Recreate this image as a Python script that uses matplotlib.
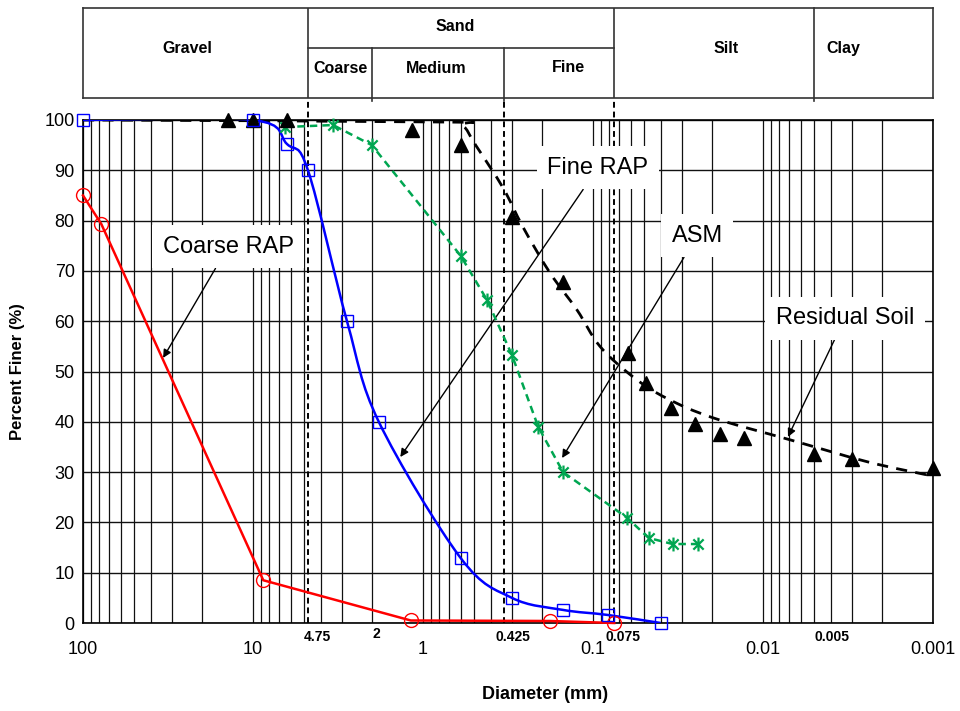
"""Particle size distribution of RAP, ASM and residual soil
"""

import numpy as np
import matplotlib
matplotlib.use('Agg')
import matplotlib.pyplot as plt
from matplotlib.path import Path
from matplotlib.patches import PathPatch
from matplotlib.ticker import LogLocator, NullFormatter, FixedLocator, NullLocator

plt.rcParams['font.family'] = ['Liberation Sans', 'DejaVu Sans']

# data (diameter in mm, percent finer)
coarse_d = [100, 78, 8.7, 1.18, 0.18, 0.075]
coarse_p = [85, 79.3, 8.5, 0.5, 0.4, 0]

fine_d = [100, 10, 6.3, 4.75, 2.8, 1.82, 0.6, 0.3, 0.15, 0.082, 0.04]
fine_p = [100, 100, 95.2, 90, 60, 40, 12.9, 5, 2.6, 1.6, 0]

asm_d = [6.5, 3.38, 2.0, 0.6, 0.42, 0.3, 0.21, 0.15, 0.063, 0.047, 0.034, 0.024]
asm_p = [98.6, 99, 95, 73, 64.2, 53.3, 39, 30, 20.9, 16.9, 15.7, 15.7]

soil_d = [14, 10, 6.3, 1.16, 0.6, 0.3, 0.15, 0.062, 0.049, 0.035, 0.025,
          0.018, 0.013, 0.005, 0.003, 0.001]
soil_p = [100, 100, 100, 98, 95, 80.7, 67.8, 53.7, 47.7, 42.7, 39.6,
          37.6, 36.8, 33.6, 32.6, 30.8]

# dashed trend line drawn for the residual soil
soil_fit_d = [100, 0.79, 0.59, 0.49, 0.338, 0.258, 0.179, 0.124, 0.091,
              0.058, 0.037, 0.0197, 0.0069, 0.0024, 0.001]
soil_fit_p = [100, 99.6, 99, 95, 86.5, 78.7, 69.6, 62.2, 55, 48.9, 44.7,
              40.8, 36.4, 32, 29.2]

major_ticks = [100, 10, 1, 0.1, 0.01, 0.001]
major_labels = ['100', '10', '1', '0.1', '0.01', '0.001']

# soil class boundaries (mm)
gravel_sand = 4.75
coarse_medium = 2.0
medium_fine = 0.335
sand_silt = 0.075
silt_clay = 0.005
dashed_bounds = [gravel_sand, medium_fine, sand_silt]

bound_labels = ['4.75', '2', '0.425', '0.075', '0.005']
bound_label_x = [4.2, 1.89, 0.296, 0.0667, 0.00393]
bound_label_y = [-0.028, -0.022, -0.028, -0.028, -0.028]

# header table text: (label, x in mm, y in header fraction)
header_text = [('Gravel', 24.5, 0.555), ('Sand', 0.649, 0.79),
               ('Coarse', 3.07, 0.333), ('Medium', 0.839, 0.333),
               ('Fine', 0.140, 0.344), ('Silt', 0.0165, 0.555),
               ('Clay', 0.00339, 0.555)]

# callouts: (text, text position, arrow tip)
callouts = [('Coarse RAP', (14.0, 74.8), (33.8, 52.7)),
            ('Fine RAP', (0.0935, 90.5), (1.36, 33.0)),
            ('ASM', (0.0244, 77.0), (0.152, 32.8)),
            ('Residual Soil', (0.0033, 60.6), (0.00713, 37.0))]


def smooth_path(xs, ys):
    """Bezier path through the points, smoothed in log-x space"""
    pts = np.column_stack([np.log10(xs), np.asarray(ys, float)])
    n = len(pts)
    verts = [pts[0]]
    codes = [Path.MOVETO]
    for i in range(n - 1):
        p0, p1 = pts[max(i - 1, 0)], pts[i]
        p2, p3 = pts[i + 1], pts[min(i + 2, n - 1)]
        verts += [p1 + (p2 - p0) / 6, p2 - (p3 - p1) / 6, p2]
        codes += [Path.CURVE4] * 3
    verts = np.array(verts)
    verts[:, 0] = 10 ** verts[:, 0]
    return Path(verts, codes)


star = Path([(-1, -1), (1, 1), (-1, 1), (1, -1), (0, -1.35), (0, 1.35)],
            [Path.MOVETO, Path.LINETO, Path.MOVETO, Path.LINETO,
             Path.MOVETO, Path.LINETO])

W, H = 960, 711
fig = plt.figure(figsize=(W / 100, H / 100), dpi=100)
left, right = 83 / W, 933 / W
ax = fig.add_axes([left, (H - 623) / H, right - left, 503 / H])
axh = fig.add_axes([left, (H - 98) / H, right - left, 90 / H])

# main axes
ax.set_xscale('log')
ax.set_xlim(100, 0.001)
ax.set_ylim(0, 100)
ax.xaxis.set_major_locator(FixedLocator(major_ticks))
ax.set_xticklabels(major_labels)
ax.xaxis.set_minor_locator(LogLocator(base=10, subs=np.arange(2, 10)))
ax.xaxis.set_minor_formatter(NullFormatter())
ax.set_yticks(range(0, 101, 10))
ax.grid(which='both', axis='x', color='#111111', lw=0.9)
ax.grid(which='major', axis='y', color='#111111', lw=1.0)
ax.set_axisbelow(True)
ax.tick_params(which='both', length=0, labelsize=13)
ax.tick_params(axis='x', pad=13)
ax.tick_params(axis='y', pad=6)
for s in ax.spines.values():
    s.set_linewidth(1.2)

for b in dashed_bounds:
    ax.axvline(b, ymin=0, ymax=1 + 22 / 503, color='k', lw=1.4,
               ls=(0, (3, 2)), clip_on=False, zorder=2)

# residual soil
ax.add_patch(PathPatch(smooth_path(soil_fit_d, soil_fit_p), fill=False,
                       ec='k', lw=2, ls=(0, (4, 3)), zorder=6))
ax.plot(soil_d, soil_p, ls='none', marker='^', color='k', ms=10,
        clip_on=False, zorder=7)

# fine RAP
ax.add_patch(PathPatch(smooth_path(fine_d, fine_p), fill=False,
                       ec='#0000ff', lw=1.8, zorder=6))
ax.plot(fine_d, fine_p, ls='none', marker='s', mfc='none', mec='#0000ff',
        mew=1, ms=9, clip_on=False, zorder=7)

# ASM
ax.plot(asm_d, asm_p, color='#00a651', lw=1.8, ls=(0, (3, 2)),
        marker=star, ms=10, mec='#00a651', mew=1.6, clip_on=False, zorder=6)

# coarse RAP
ax.plot(coarse_d, coarse_p, color='#ff0000', lw=1.8, marker='o', mfc='none',
        mec='#ff0000', mew=1, ms=10, clip_on=False, zorder=6)

for txt, pos, tip in callouts:
    ax.annotate(txt, xy=tip, xytext=pos, fontsize=17, ha='center',
                va='center', zorder=5,
                bbox=dict(boxstyle='square,pad=0.45', fc='white', ec='none'),
                arrowprops=dict(arrowstyle='-|>', color='k', lw=1,
                                mutation_scale=12, shrinkA=0, shrinkB=0))

for txt, x, y in zip(bound_labels, bound_label_x, bound_label_y):
    ax.text(x, y, txt, transform=ax.get_xaxis_transform(), ha='center',
            va='center', fontsize=10, fontweight='bold')

ax.set_xlabel('Diameter (mm)', fontsize=13, fontweight='bold')
ax.xaxis.set_label_coords(0.5435, -0.125)
ax.set_ylabel('Percent Finer (%)', fontsize=12, fontweight='bold')
ax.yaxis.set_label_coords(-0.068, 0.5)

# header table
axh.set_xscale('log')
axh.set_xlim(100, 0.001)
axh.set_ylim(0, 1)
axh.xaxis.set_major_locator(NullLocator())
axh.xaxis.set_minor_locator(NullLocator())
axh.yaxis.set_major_locator(NullLocator())
axh.tick_params(which='both', length=0)
for s in axh.spines.values():
    s.set_linewidth(1.2)
    s.set_color('#333333')
lc = '#333333'
for b in [gravel_sand, sand_silt]:
    axh.plot([b, b], [0, 1], color=lc, lw=1.2)
axh.plot([silt_clay, silt_clay], [-0.03, 1], color=lc, lw=1.2, clip_on=False)
axh.plot([gravel_sand, sand_silt], [0.555, 0.555], color=lc, lw=1.2)
for b in [coarse_medium, medium_fine]:
    axh.plot([b, b], [-0.03, 0.555], color=lc, lw=1.2, clip_on=False)
for txt, x, y in header_text:
    axh.text(x, y, txt, ha='center', va='center', fontsize=11.5,
             fontweight='bold')

fig.savefig('out.png', dpi=100)
